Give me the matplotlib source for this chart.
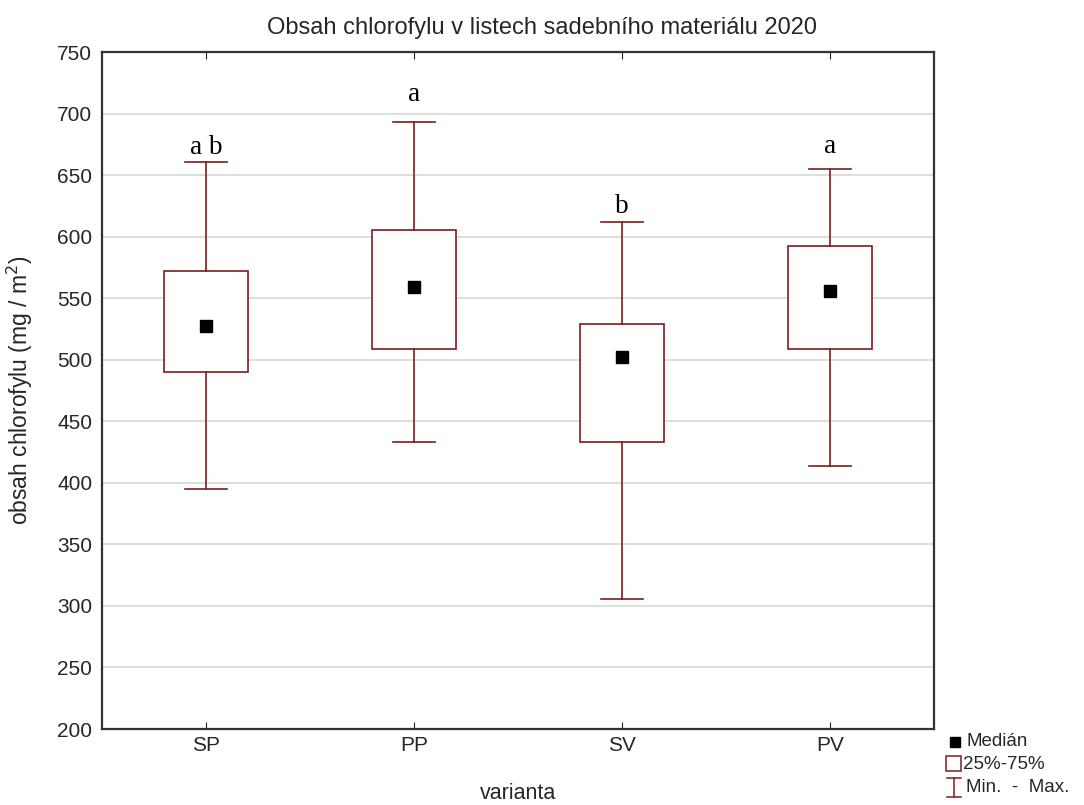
import matplotlib
matplotlib.use("Agg")
import matplotlib.pyplot as plt
from matplotlib.lines import Line2D
from matplotlib.patches import Rectangle

# Chlorophyll content per variant (mg/m2)
categories = ["SP", "PP", "SV", "PV"]
minimum = [395, 433, 306, 414]
q1 = [490, 509, 433, 509]
median = [527, 559, 502, 556]
q3 = [572, 605, 529, 592]
maximum = [661, 693, 612, 655]
letters = ["a b", "a", "b", "a"]

box_color = "#7a1e1e"
text_color = "#262626"
sans = ["Liberation Sans", "DejaVu Sans"]
plt.rcParams["font.family"] = sans

fig = plt.figure(figsize=(10.84, 8.05), dpi=100)
ax = fig.add_axes([0.0941, 0.0944, 0.7675, 0.841])

pos = list(range(1, len(categories) + 1))
ax.bxp(
    [dict(med=m, q1=a, q3=b, whislo=lo, whishi=hi, fliers=[])
     for m, a, b, lo, hi in zip(median, q1, q3, minimum, maximum)],
    positions=pos, widths=0.4, showfliers=False, patch_artist=True,
    boxprops=dict(facecolor="white", edgecolor=box_color, linewidth=1.2),
    whiskerprops=dict(color=box_color, linewidth=1.2),
    capprops=dict(color=box_color, linewidth=1.2),
    medianprops=dict(linewidth=0), capwidths=0.2, zorder=3,
)
ax.plot(pos, median, "s", color="black", markersize=9, zorder=4)

# significance letters above the whisker caps (offsets in points)
letter_gap = [5.5, 15, 6.5, 11.5]
for x, top, lab, gap in zip(pos, maximum, letters, letter_gap):
    ax.annotate(lab, (x, top), xytext=(0, gap), textcoords="offset points",
                ha="center", va="baseline", fontsize=19.5,
                family=["Liberation Serif", "DejaVu Serif"])

ax.set_xlim(0.5, 4.5)
ax.set_ylim(200, 750)
ax.set_yticks(range(200, 751, 50))
ax.set_xticks(pos)
ax.set_xticklabels(categories)
ax.yaxis.grid(True, color="#d4d4d4", linewidth=1.1)
ax.set_axisbelow(True)
ax.tick_params(axis="x", direction="in", length=5, top=True, labelsize=15,
               pad=5, color="#222222", labelcolor=text_color)
ax.tick_params(axis="y", length=0, labelsize=15, pad=7, labelcolor=text_color)
for s in ax.spines.values():
    s.set_linewidth(1.6)
    s.set_color("#333333")

fig.text(0.5, 1 - 28 / 805, "Obsah chlorofylu v listech sadebního materiálu 2020",
         fontsize=17, ha="center", va="center", color=text_color)
ax.set_xlabel("varianta", fontsize=15.5, labelpad=20, color=text_color)
ax.set_ylabel("obsah chlorofylu (mg / m$^2$)", fontsize=16.5, labelpad=16,
              color=text_color)

# Legend drawn in figure pixels
W, H = 1084, 805
def fx(px):
    return px / W
def fy(py):
    return 1 - py / H

fig.add_artist(Line2D([fx(955)], [fy(742)], marker="s", color="black",
                      markersize=7, linestyle="none"))
fig.text(fx(966), fy(741), "Medián", fontsize=13.5, va="center", ha="left",
         color=text_color)
fig.add_artist(Rectangle((fx(946), fy(771)), fx(15), 15 / H, fill=False,
                         edgecolor=box_color, linewidth=1.1,
                         transform=fig.transFigure))
fig.text(fx(963), fy(764), "25%-75%", fontsize=13.5, va="center", ha="left",
         color=text_color)
fig.add_artist(Line2D([fx(947), fx(961)], [fy(778), fy(778)], color=box_color, lw=1.1))
fig.add_artist(Line2D([fx(954), fx(954)], [fy(778), fy(797)], color=box_color, lw=1.1))
fig.add_artist(Line2D([fx(947), fx(961)], [fy(797), fy(797)], color=box_color, lw=1.1))
fig.text(fx(966), fy(787), "Min.  -  Max.", fontsize=13.5, va="center", ha="left",
         color=text_color)

fig.savefig("out.png", dpi=100)
